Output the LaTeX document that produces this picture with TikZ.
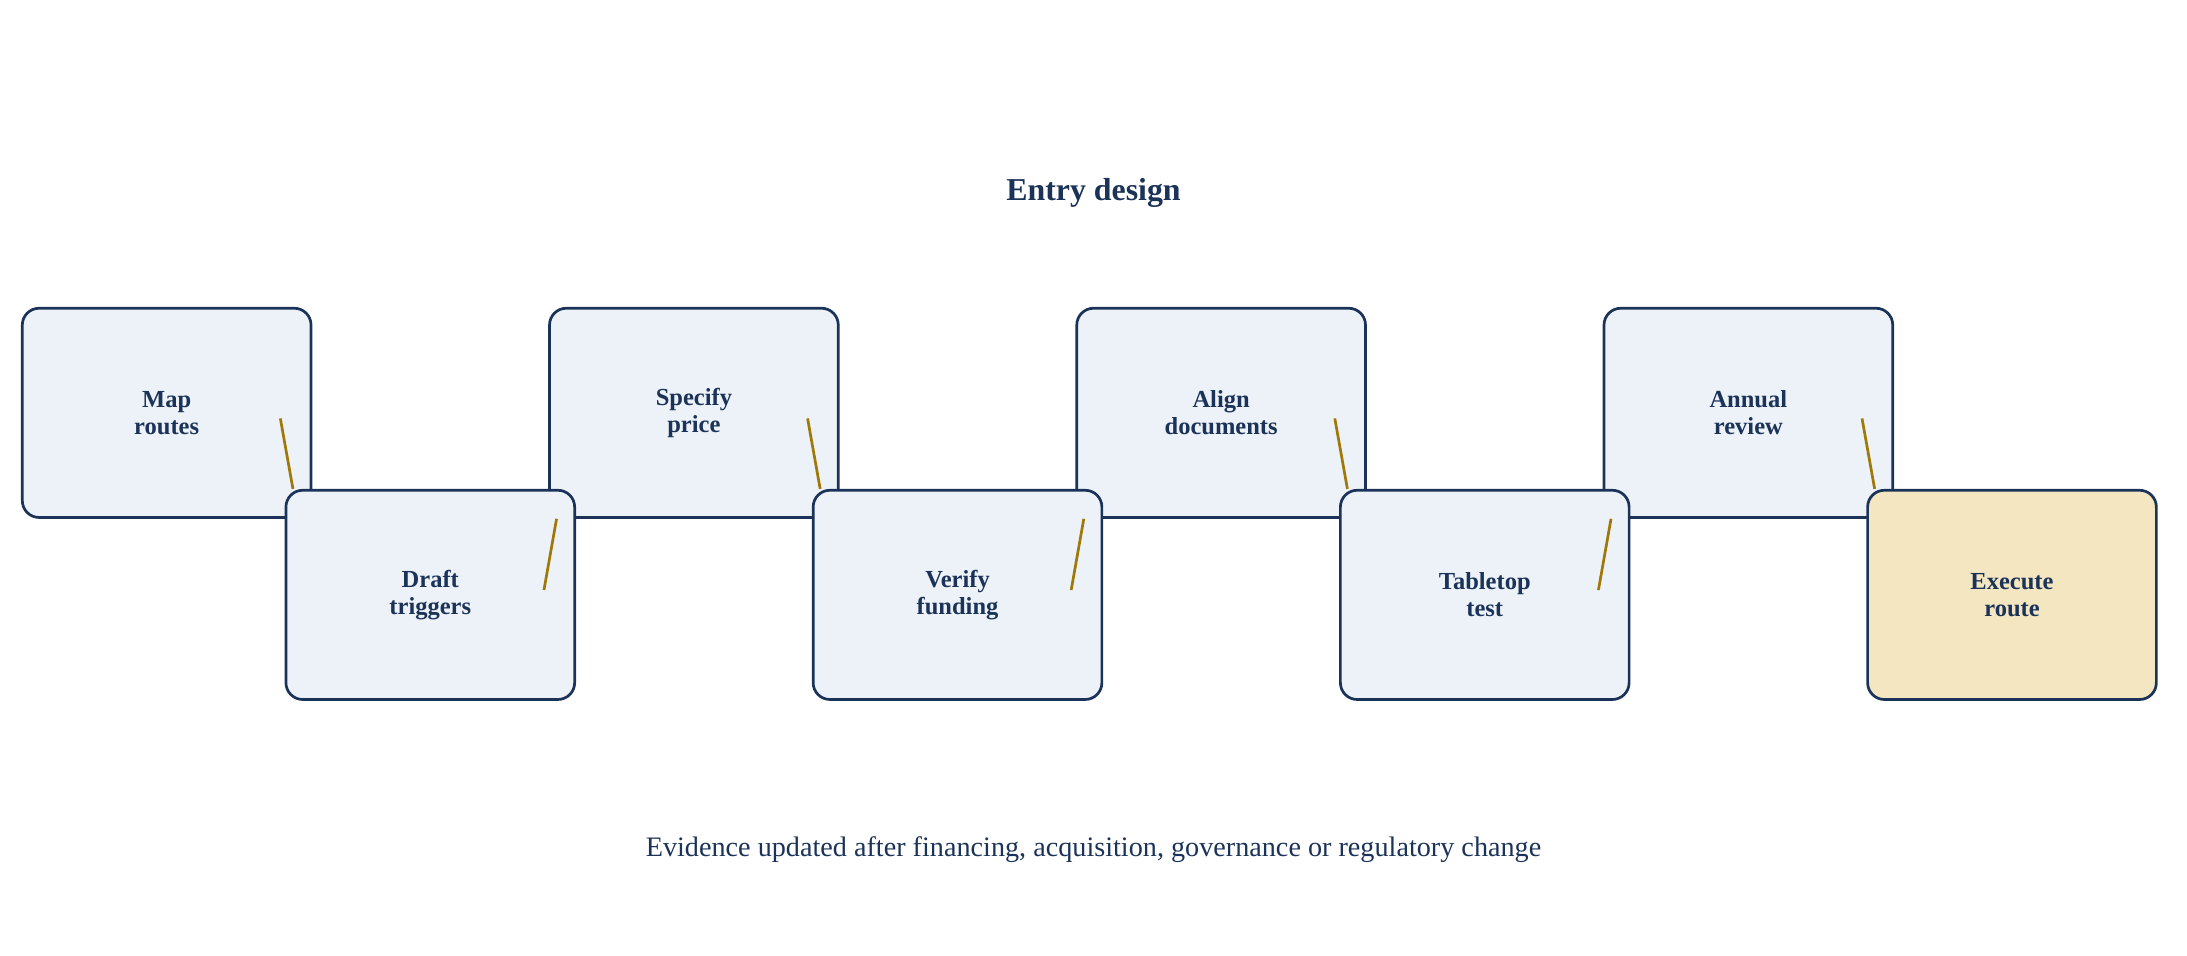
\documentclass[tikz,border=0pt]{standalone}
\usepackage{fontspec}
\setmainfont{Liberation Serif}
\usetikzlibrary{calc}
\definecolor{navy}{HTML}{1B3358}
\definecolor{boxfill}{HTML}{EDF2F8}
\definecolor{goldfill}{HTML}{F3E6C0}
\definecolor{gold}{HTML}{A07808}
\tikzset{stage/.style={draw=navy,line width=1.1pt,fill=boxfill,rounded corners=0.24cm,
    minimum width=4.14cm,minimum height=3cm,align=center,text=navy,
    font=\fontsize{10}{11}\selectfont\bfseries},
  link/.style={gold,line width=1.1pt}}
\begin{document}
\begin{tikzpicture}
  \useasboundingbox (0,0) rectangle (31.36,13.7);
  \node[text=navy,font=\fontsize{13}{15}\selectfont\bfseries] (title) at (15.68,10.94) {Entry design};
  \foreach \k/\txt in {0/{Map\\routes},2/{Specify\\price},4/{Align\\documents},6/{Annual\\review}}
    \node[stage] (s\k) at ({2.39+3.78*\k},7.78) {\txt};
  \foreach \k/\txt in {1/{Draft\\triggers},3/{Verify\\funding},5/{Tabletop\\test}}
    \node[stage] (s\k) at ({2.39+3.78*\k},5.17) {\txt};
  \node[stage,fill=goldfill] (s7) at ({2.39+3.78*7},5.17) {Execute\\route};
  % connectors
  \foreach \a/\b in {0/1,2/3,4/5,6/7}
    \draw[link] ($(s\a.center)+(1.63,-0.08)$) -- ($(s\b.north west)+(0.12,0)$);
  \foreach \a/\b in {1/2,3/4,5/6}
    \draw[link] ($(s\a.center)+(1.63,0.07)$) -- ($(s\b.south west)+(0.12,0)$);
  \node[text=navy,font=\fontsize{11.5}{13}\selectfont] (note) at (15.68,1.52)
    {Evidence updated after financing, acquisition, governance or regulatory change};
\end{tikzpicture}
\end{document}
